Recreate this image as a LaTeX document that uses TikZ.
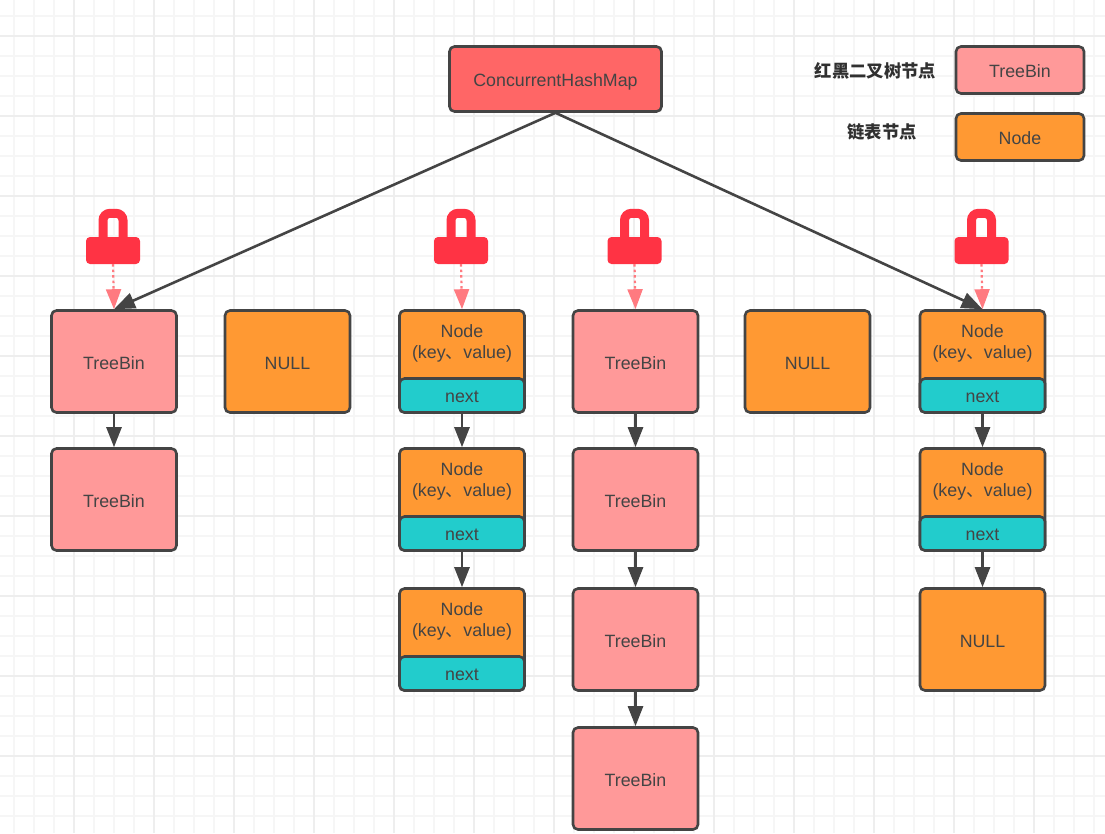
\documentclass[tikz,border=0pt]{standalone}
\usepackage{fontspec}
\setmainfont{Liberation Sans}
\newfontfamily\cjk{Noto Sans CJK SC}
\usetikzlibrary{arrows.meta}
\definecolor{linegrey}{HTML}{444444}
\definecolor{pinkbin}{HTML}{FF9999}
\definecolor{orangenode}{HTML}{FF9933}
\definecolor{tealnext}{HTML}{22CCCC}
\definecolor{redroot}{HTML}{FF6666}
\definecolor{redlock}{HTML}{FF3344}
\definecolor{pinkarrow}{HTML}{FF7A80}
\definecolor{gridminor}{HTML}{F6F6F6}
\definecolor{gridmajor}{HTML}{EEEEEE}
\tikzset{
	box/.style={draw=linegrey,line width=2.6pt,rounded corners=5pt,inner sep=0pt,text=linegrey,font=\fontsize{17.8}{20}\selectfont,text height=15.5pt,text depth=0pt},
	binbox/.style={box,fill=pinkbin,minimum width=125pt,minimum height=102pt},
	nodebox/.style={box,fill=orangenode,minimum width=125pt,minimum height=102pt},
	nextbox/.style={box,fill=tealnext,minimum width=125pt,minimum height=34pt,anchor=south,text height=14pt},
	keybox/.style={inner sep=0pt,text=linegrey,font=\fontsize{17.8}{21}\selectfont,align=center},
	legendbox/.style={box,minimum width=128pt,minimum height=47pt,text height=15pt},
	caption/.style={inner sep=0pt,text=linegrey!70!black,font=\cjk\bfseries\fontsize{17.3}{20}\selectfont},
	lockbody/.style={fill=redlock,rounded corners=4pt,inner sep=0pt,minimum width=54pt,minimum height=27pt},
	link/.style={draw=linegrey,line width=2.6pt,-{Triangle[length=20pt,width=15pt]}},
	mainlink/.style={draw=linegrey,line width=2.6pt,-{Triangle[length=21pt,width=16pt]}},
	locklink/.style={draw=pinkarrow,line width=2.2pt,dash pattern=on 2.5pt off 3pt,-{Triangle[length=20pt,width=15pt,fill=pinkarrow]}},
}
% one bucket entry: orange box, teal next field on top of it
\newcommand{\listnode}[3]{
	\node(#1) [nodebox] at (#2,#3) {};
	\node(#1next) [nextbox] at (#1.south) {next};
	\node(#1key) [keybox] at (#2,#3-18) {Node\\(key{\cjk 、}value)};
}
\begin{document}
\begin{tikzpicture}[x=1pt,y=-1pt]
\useasboundingbox (0,0) rectangle (1105,833);
% grid paper
\foreach \x in {14,34,...,1094} {\draw[gridminor,line width=1.5pt] (\x,0) -- (\x,833);}
\foreach \y in {16,36,...,816} {\draw[gridminor,line width=1.5pt] (0,\y) -- (1105,\y);}
\foreach \x in {74,154,...,1034} {\draw[gridmajor,line width=1.5pt] (\x,0) -- (\x,833);}
\foreach \y in {36,116,...,796} {\draw[gridmajor,line width=1.5pt] (0,\y) -- (1105,\y);}
% top row
\node(root) [box,fill=redroot,minimum width=212pt,minimum height=65pt,text height=15pt] at (555.5,79) {ConcurrentHashMap};
\node(legendbin) [legendbox,fill=pinkbin] at (1020,70) {TreeBin};
\node(legendnode) [legendbox,fill=orangenode] at (1020,137) {Node};
\node(captionbin) [caption] at (875.5,71) {红黑二叉树节点};
\node(captionnode) [caption] at (882,132) {链表节点};
% buckets
\node(binA) [binbox] at (114,361.5) {TreeBin};
\node(binB) [binbox] at (114,499.5) {TreeBin};
\node(nullA) [nodebox] at (287.5,361.5) {NULL};
\listnode{listA}{462}{361.5}
\listnode{listB}{462}{499.5}
\listnode{listC}{462}{639.5}
\node(binC) [binbox] at (635.5,361.5) {TreeBin};
\node(binD) [binbox] at (635.5,499.5) {TreeBin};
\node(binE) [binbox] at (635.5,639.5) {TreeBin};
\node(binF) [binbox] at (635.5,778.5) {TreeBin};
\node(nullB) [nodebox] at (807.5,361.5) {NULL};
\listnode{listD}{982.5}{361.5}
\listnode{listE}{982.5}{499.5}
\node(nullC) [nodebox] at (982.5,639.5) {NULL};
% locks
\foreach \x/\target in {113/binA,461/listA,634.5/binC,981.5/listD} {
	\node(lock\target) [lockbody] at (\x,250.5) {};
	\draw[redlock,line width=9pt,rounded corners=7pt] ([xshift=-10pt,yshift=-2pt]lock\target.north) -- ++(0,-25.5) -- ++(20,0) -- ++(0,25.5);
	\draw[locklink] (lock\target.south) -- (\target.north);
}
% links
\draw[mainlink] (root.south) -- (binA.north);
\draw[mainlink] (root.south) -- (listD.north);
\draw[link] (binA) -- (binB);
\draw[link] (listAnext) -- (listB);
\draw[link] (listBnext) -- (listC);
\draw[link] (binC) -- (binD);
\draw[link] (binD) -- (binE);
\draw[link] (binE) -- (binF);
\draw[link] (listDnext) -- (listE);
\draw[link] (listEnext) -- (nullC);
\end{tikzpicture}
\end{document}
